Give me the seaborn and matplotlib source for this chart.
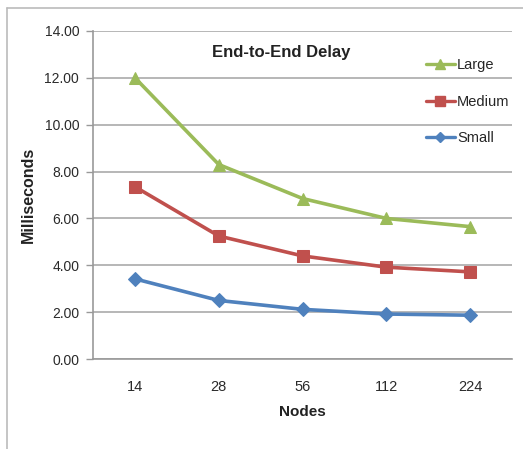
import matplotlib
matplotlib.use("Agg")
import matplotlib.pyplot as plt
import seaborn as sns
import pandas as pd
from matplotlib.lines import Line2D

nodes = ["14", "28", "56", "112", "224"]
large = [12.0, 8.3, 6.85, 6.0, 5.65]
medium = [7.35, 5.25, 4.4, 3.92, 3.72]
small = [3.42, 2.5, 2.12, 1.92, 1.87]
series_names = ["Large", "Medium", "Small"]
yticks = [0, 2, 4, 6, 8, 10, 12, 14]

sns.set_theme(style="white")
plt.rcParams['font.family'] = ['Liberation Sans', 'DejaVu Sans']

df = pd.DataFrame({
    "Nodes": nodes * 3,
    "x": list(range(len(nodes))) * 3,
    "value": large + medium + small,
    "Series": [s for s in series_names for _ in nodes],
})

colors = {"Large": "#9BBB59", "Medium": "#C0504D", "Small": "#4F81BD"}
markers = {"Large": "^", "Medium": "s", "Small": "D"}
msizes = {"Large": 9, "Medium": 9, "Small": 7}

fig = plt.figure(figsize=(5.23, 4.49), dpi=100)
ax = fig.add_axes([0.178, 0.2004, 0.801, 0.7306])

for s in series_names:
    d = df[df["Series"] == s]
    sns.lineplot(data=d, x="x", y="value", ax=ax, color=colors[s], linewidth=2.6,
                 marker=markers[s], markersize=msizes[s], markeredgecolor=colors[s],
                 legend=False)

ax.set_xlim(-0.5, 4.5)
ax.set_ylim(0, 14)
ax.set_yticks(yticks)
ax.set_yticklabels([f"{v:.2f}" for v in yticks], fontsize=10, color="#2a2a2a")
ax.set_xticks(range(len(nodes)))
ax.set_xticklabels(nodes, fontsize=10.5, color="#2a2a2a")
ax.set_xticks([i - 0.5 for i in range(len(nodes) + 1)], minor=True)
ax.tick_params(axis="x", which="major", length=0, pad=15)
ax.tick_params(axis="x", which="minor", length=5, color="#999999", width=1, direction="out")
ax.tick_params(axis="y", length=5, color="#999999", width=1, direction="out", pad=5, left=True)
ax.yaxis.grid(True, color="#aaaaaa", linewidth=1.2)
ax.set_axisbelow(True)
for sp in ["top", "right"]:
    ax.spines[sp].set_visible(False)
for sp in ["left", "bottom"]:
    ax.spines[sp].set_color("#999999")
    ax.spines[sp].set_linewidth(1.2)

ax.set_xlabel("Nodes", fontsize=11, fontweight="bold", labelpad=8, color="#222222")
ax.set_ylabel("Milliseconds", fontsize=11.5, fontweight="bold", labelpad=6, color="#222222")
ax.text(0.45, 0.935, "End-to-End Delay", transform=ax.transAxes, ha="center", va="center",
        fontsize=12, fontweight="bold", color="#222222")

handles = [Line2D([0], [0], color=colors[s], marker=markers[s], markersize=msizes[s] - 2,
                  linewidth=2.4, markeredgecolor=colors[s]) for s in series_names]
ax.legend(handles, series_names, loc="upper left", bbox_to_anchor=(0.78, 0.935),
          frameon=False, fontsize=10.5, handlelength=2.0, handletextpad=0.15,
          labelspacing=1.55, borderaxespad=0)

# outer frame (left and top edges)
fig.add_artist(Line2D([7 / 523, 7 / 523], [0, 1 - 8 / 449], transform=fig.transFigure,
                      color="#bbbbbb", linewidth=1.2))
fig.add_artist(Line2D([7 / 523, 1], [1 - 8 / 449, 1 - 8 / 449], transform=fig.transFigure,
                      color="#bbbbbb", linewidth=1.2))

fig.savefig("out.png", dpi=100)
